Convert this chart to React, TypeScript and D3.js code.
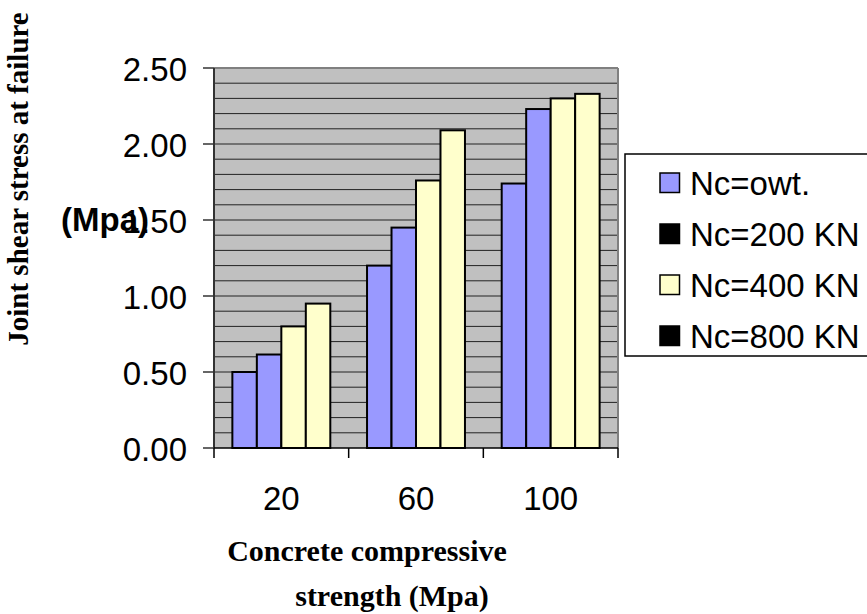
import React from "react";
import * as d3 from "d3";

// Concrete compressive strength groups (MPa)
const categories = ["20", "60", "100"];
// Axial load cases
const seriesNames = ["Nc=owt.", "Nc=200 KN", "Nc=400 KN", "Nc=800 KN"];
// Joint shear stress at failure (MPa), one array per load case, per strength group
const ncOwt = [0.5, 1.2, 1.74];
const nc200 = [0.615, 1.45, 2.23];
const nc400 = [0.8, 1.76, 2.3];
const nc800 = [0.95, 2.09, 2.33];
const seriesValues = [ncOwt, nc200, nc400, nc800];
const barFills = ["#9999FF", "#9999FF", "#FFFFCC", "#FFFFCC"];
const legendFills = ["#9999FF", "#000000", "#FFFFCC", "#000000"];
const yTicks = [0, 0.5, 1.0, 1.5, 2.0, 2.5];
const yMinor = d3.range(0, 26).map((i) => i / 10);

const W = 867;
const H = 614;
const plot = { left: 214, right: 618, top: 68, bottom: 448 };

const SANS = "'Liberation Sans', Arial, sans-serif";
const SERIF = "'Liberation Serif', 'Times New Roman', serif";

export default function App() {
  const y = d3.scaleLinear().domain([0, 2.5]).range([plot.bottom, plot.top]);
  const x = d3.scaleBand<string>().domain(categories).range([plot.left, plot.right]).padding(0);
  const inner = d3
    .scaleBand<string>()
    .domain(seriesNames)
    .range([0, x.bandwidth()])
    .paddingInner(0)
    .paddingOuter(0.75);

  const boundaries = [...categories.map((c) => x(c)!), plot.right];

  return (
    <svg
      width={W}
      height={H}
      style={{ position: "absolute", left: 0, top: 0, display: "block", background: "#fff" }}
    >
      {/* plot area */}
      <rect
        x={plot.left}
        y={plot.top}
        width={plot.right - plot.left}
        height={plot.bottom - plot.top}
        fill="#C0C0C0"
      />
      {/* gridlines every 0.1 */}
      {yMinor.slice(1).map((v) => (
        <line
          key={"g" + v}
          x1={plot.left}
          x2={plot.right}
          y1={y(v)}
          y2={y(v)}
          stroke="#222"
          strokeWidth={1}
        />
      ))}
      {/* plot border */}
      <line x1={plot.left} x2={plot.right} y1={plot.top} y2={plot.top} stroke="#808080" strokeWidth={2} />
      <line x1={plot.right} x2={plot.right} y1={plot.top} y2={plot.bottom} stroke="#808080" strokeWidth={2} />

      {/* bars */}
      {categories.map((c, ci) =>
        seriesNames.map((s, si) => {
          const v = seriesValues[si][ci];
          const bx = x(c)! + inner(s)!;
          return (
            <rect
              key={c + s}
              x={bx}
              y={y(v)}
              width={inner.bandwidth()}
              height={y(0) - y(v)}
              fill={barFills[si]}
              stroke="#000"
              strokeWidth={2}
            />
          );
        })
      )}

      {/* y axis */}
      <line x1={plot.left} x2={plot.left} y1={plot.top} y2={plot.bottom} stroke="#333" strokeWidth={2} />
      {yTicks.map((t) => (
        <g key={"t" + t}>
          <line x1={plot.left - 11} x2={plot.left} y1={y(t)} y2={y(t)} stroke="#333" strokeWidth={1.5} />
          <text
            x={187}
            y={y(t) + 13}
            textAnchor="end"
            fontFamily={SANS}
            fontSize={33}
            fill="#000"
          >
            {d3.format(".2f")(t)}
          </text>
        </g>
      ))}

      {/* x axis */}
      <line x1={plot.left} x2={plot.right} y1={plot.bottom} y2={plot.bottom} stroke="#000" strokeWidth={1.5} />
      {boundaries.map((bx, i) => (
        <line key={"xt" + i} x1={bx} x2={bx} y1={plot.bottom} y2={plot.bottom + 10} stroke="#000" strokeWidth={1.5} />
      ))}
      {categories.map((c) => (
        <text
          key={"xl" + c}
          x={x(c)! + x.bandwidth() / 2}
          y={510}
          textAnchor="middle"
          fontFamily={SANS}
          fontSize={33}
          fill="#000"
        >
          {c}
        </text>
      ))}

      {/* axis titles */}
      <text
        transform="translate(28,179) rotate(-90)"
        textAnchor="middle"
        fontFamily={SERIF}
        fontWeight="bold"
        fontSize={29}
        fill="#000"
      >
        Joint shear stress at failure
      </text>
      <text x={61} y={231} fontFamily={SANS} fontWeight="bold" fontSize={33} fill="#000">
        (Mpa)
      </text>
      <text x={367} y={561} textAnchor="middle" fontFamily={SERIF} fontWeight="bold" fontSize={30} fill="#000">
        Concrete compressive
      </text>
      <text x={392} y={606} textAnchor="middle" fontFamily={SERIF} fontWeight="bold" fontSize={30} fill="#000">
        strength (Mpa)
      </text>

      {/* legend */}
      <rect x={625} y={154} width={300} height={202} fill="#fff" stroke="#000" strokeWidth={1.5} />
      {seriesNames.map((s, i) => {
        const cy = 183 + i * 51;
        return (
          <g key={"lg" + s}>
            <rect x={660} y={cy - 10} width={19.5} height={19.5} fill={legendFills[i]} stroke="#000" strokeWidth={1.5} />
            <text x={690} y={cy + 12} fontFamily={SANS} fontSize={33} fill="#000">
              {s}
            </text>
          </g>
        );
      })}
    </svg>
  );
}
